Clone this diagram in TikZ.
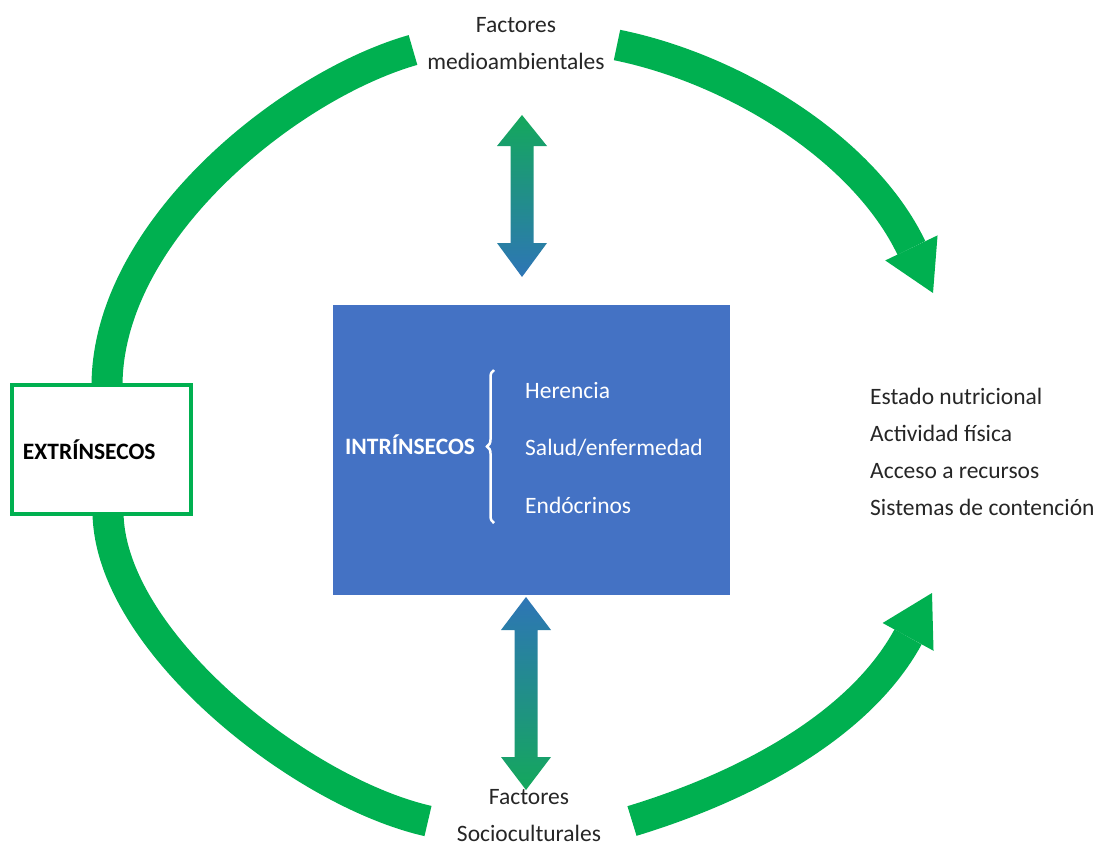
\documentclass[tikz,border=0pt]{standalone}
\usepackage{fontspec}
\setmainfont{Carlito}
\usepackage{xcolor}
\usepackage{tikz}
\usetikzlibrary{arrows.meta,decorations.pathreplacing}

\definecolor{arcgreen}{HTML}{00B050}
\definecolor{boxblue}{HTML}{4472C4}
\definecolor{tipgreen}{HTML}{14A85C}
\definecolor{tipblue}{HTML}{2E75B6}
\definecolor{txtgray}{HTML}{262626}

\begin{document}
\begin{tikzpicture}[x=1pt, y=-1pt,
    every node/.style={font=\fontsize{23.5}{37}\selectfont, text=txtgray, inner sep=0pt},
    greenarc/.style={draw=arcgreen, line width=31pt},
    greentip/.style={greenarc, -{Triangle[width=58pt, length=50pt, line width=0pt]}},
    listitem/.style={anchor=base west, text=white}]
    \useasboundingbox (0,0) rectangle (1102,848);

    % labels round the cycle
    \node (med) [align=center, anchor=base] at (516,70) {Factores\\medioambientales};
    \node (soc) [align=center, anchor=base] at (529,841) {Factores\\Socioculturales};
    \node (res) [align=left, anchor=base west] at (870,515) {Estado nutricional\\Actividad física\\Acceso a recursos\\Sistemas de contención};

    % box in the middle
    \node (intr) [fill=boxblue, minimum width=397pt, minimum height=290pt] at (531.5,450) {};
    \node (intrlbl) [anchor=base west, text=white, font=\fontsize{23.5}{37}\selectfont\bfseries] at (345,454) {INTRÍNSECOS};
    \node (her) [listitem] at (525,398) {Herencia};
    \node (sal) [listitem] at (525,455) {Salud/enfermedad};
    \node (endo) [listitem] at (525,513) {Endócrinos};
    \draw[white, line width=2.5pt, decorate, decoration={brace, amplitude=7pt}] (494,523) -- (494,370);

    % green arcs
    \coordinate (tlEnd) at (413,50);
    \coordinate (blEnd) at (428,821);
    \coordinate (trStart) at (617,45);
    \coordinate (trTip) at (933,293);
    \coordinate (brStart) at (632,821);
    \coordinate (brTip) at (932,593);
    \coordinate (extTop) at (107,386);
    \coordinate (extBot) at (108,512);
    \draw[greenarc] (extTop) .. controls (107,230) and (290,85) .. (tlEnd);
    \draw[greenarc] (extBot) .. controls (109,640) and (300,792) .. (blEnd);
    \draw[greentip] (trStart) .. controls (735,69) and (864,149) .. (trTip);
    \draw[greentip] (brStart) .. controls (747,786) and (860,725) .. (brTip);

    \node (ext) [draw=arcgreen, line width=4pt, fill=white, minimum height=129pt, text width=157pt, inner xsep=11pt, align=left, text=black, font=\fontsize{23.5}{37}\selectfont\bfseries] at (101.5,449.5) {EXTRÍNSECOS};

    % double arrows
    \coordinate (upTop) at (522,115);
    \coordinate (dnTop) at (526,597);
    \shade[top color=tipgreen, bottom color=tipblue] (upTop) -- ++(25,31) -- ++(-13.5,0) -- ++(0,97) -- ++(13.5,0) -- ++(-25,34) -- ++(-25,-34) -- ++(13.5,0) -- ++(0,-97) -- ++(-13.5,0) -- cycle;
    \shade[top color=tipblue, bottom color=tipgreen] (dnTop) -- ++(25,33) -- ++(-13.5,0) -- ++(0,127) -- ++(13.5,0) -- ++(-25,33) -- ++(-25,-33) -- ++(13.5,0) -- ++(0,-127) -- ++(-13.5,0) -- cycle;
\end{tikzpicture}
\end{document}
